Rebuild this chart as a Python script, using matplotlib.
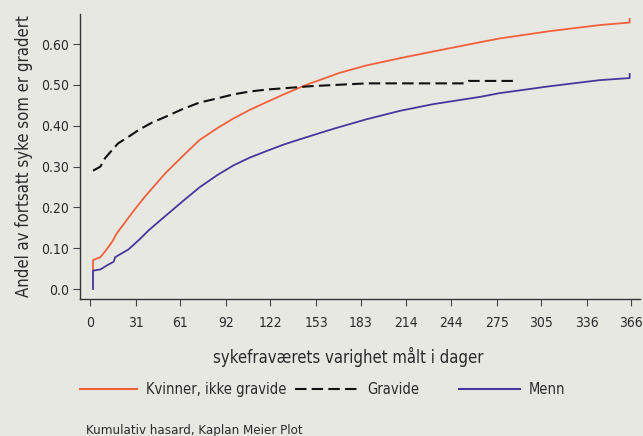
import numpy as np
import matplotlib.pyplot as plt
from matplotlib.lines import Line2D

plt.rcParams['font.family'] = ['DejaVu Sans']
plt.rcParams['font.stretch'] = 'condensed'

# data (days, cumulative share)
kvinner_x = [2, 2, 7, 11, 15, 18, 24, 30, 37, 44, 51, 63, 74, 86, 97, 108, 120, 131, 142,
             149, 156, 169, 187, 210, 232, 264, 277, 311, 345, 365, 365]
kvinner_y = [0.047, 0.071, 0.078, 0.096, 0.116, 0.136, 0.165, 0.194, 0.226, 0.255, 0.284,
             0.327, 0.365, 0.394, 0.418, 0.439, 0.459, 0.477, 0.494, 0.504, 0.513, 0.530,
             0.548, 0.566, 0.582, 0.605, 0.614, 0.632, 0.647, 0.653, 0.662]

gravide_x = [2, 7, 10, 15, 19, 26, 33, 42, 51, 62, 74, 86, 97, 108, 120, 131, 142, 149, 165,
             187, 253, 256, 286]
gravide_y = [0.29, 0.30, 0.32, 0.341, 0.357, 0.373, 0.39, 0.408, 0.422, 0.440, 0.457, 0.467,
             0.477, 0.484, 0.489, 0.492, 0.495, 0.497, 0.500, 0.504, 0.504, 0.51, 0.51]

menn_x = [2, 2, 7, 12, 16, 17, 26, 33, 40, 50, 63, 74, 86, 97, 108, 120, 131, 142, 149, 165,
          187, 210, 232, 264, 277, 311, 345, 365, 365]
menn_y = [0.0, 0.045, 0.048, 0.059, 0.067, 0.078, 0.097, 0.12, 0.145, 0.176, 0.216, 0.249,
          0.279, 0.303, 0.322, 0.339, 0.354, 0.367, 0.375, 0.393, 0.416, 0.437, 0.453, 0.471,
          0.48, 0.497, 0.512, 0.517, 0.527]

xticks = [0, 31, 61, 92, 122, 153, 183, 214, 244, 275, 305, 336, 366]
yticks = [0.0, 0.1, 0.2, 0.3, 0.4, 0.5, 0.6]
ytick_labels = ['0.0', '0.10', '0.20', '0.30', '0.40', '0.50', '0.60']

bg = '#e8e8e3'
orange = '#f2603c'
blue = '#47379c'
txt = '#2b2b2b'

fig = plt.figure(figsize=(6.43, 4.36), dpi=100, facecolor=bg)
W, H = 643, 436
ax = fig.add_axes([80 / W, (H - 299) / H, (640 - 80) / W, (299 - 14) / H])
ax.set_facecolor(bg)

ax.plot(kvinner_x, kvinner_y, color=orange, lw=1.3)
ax.plot(gravide_x, gravide_y, color='#111111', lw=1.5, dashes=(5.5, 2.5))
ax.plot(menn_x, menn_y, color=blue, lw=1.3)

ax.set_xlim(-6.8, 372)
ax.set_ylim(-0.0245, 0.674)
ax.set_xticks(xticks)
ax.set_xticklabels([str(t) for t in xticks])
ax.set_yticks(yticks)
ax.set_yticklabels(ytick_labels)
for s in ['top', 'right']:
    ax.spines[s].set_visible(False)
for s in ['left', 'bottom']:
    ax.spines[s].set_color('#333333')
    ax.spines[s].set_linewidth(1.0)
ax.tick_params(axis='x', length=5, pad=7, labelsize=10, colors='#444444', labelcolor=txt)
ax.tick_params(axis='y', length=5, pad=3, labelsize=10, colors='#444444', labelcolor=txt)

ax.set_ylabel('Andel av fortsatt syke som er gradert', fontsize=12, color=txt, labelpad=6)
fig.text(348 / W, 1 - 357 / H, 'sykefraværets varighet målt i dager', fontsize=12,
         color=txt, ha='center', va='center')

# legend row
ly = 1 - 389 / H
fig.add_artist(Line2D([80 / W, 137 / W], [ly, ly], color=orange, lw=1.5))
fig.text(146 / W, ly, 'Kvinner, ikke gravide', fontsize=10.5, color=txt, va='center')
fig.add_artist(Line2D([295 / W, 358 / W], [ly, ly], color='#111111', lw=1.5, dashes=(5.5, 2.5)))
fig.text(367 / W, ly, 'Gravide', fontsize=10.5, color=txt, va='center')
fig.add_artist(Line2D([459 / W, 520 / W], [ly, ly], color=blue, lw=1.5))
fig.text(529 / W, ly, 'Menn', fontsize=10.5, color=txt, va='center')

fig.text(86 / W, 1 - 430 / H, 'Kumulativ hasard, Kaplan Meier Plot', fontsize=9.5,
         color=txt, va='center')

plt.savefig('out.png', dpi=100, facecolor=bg)
